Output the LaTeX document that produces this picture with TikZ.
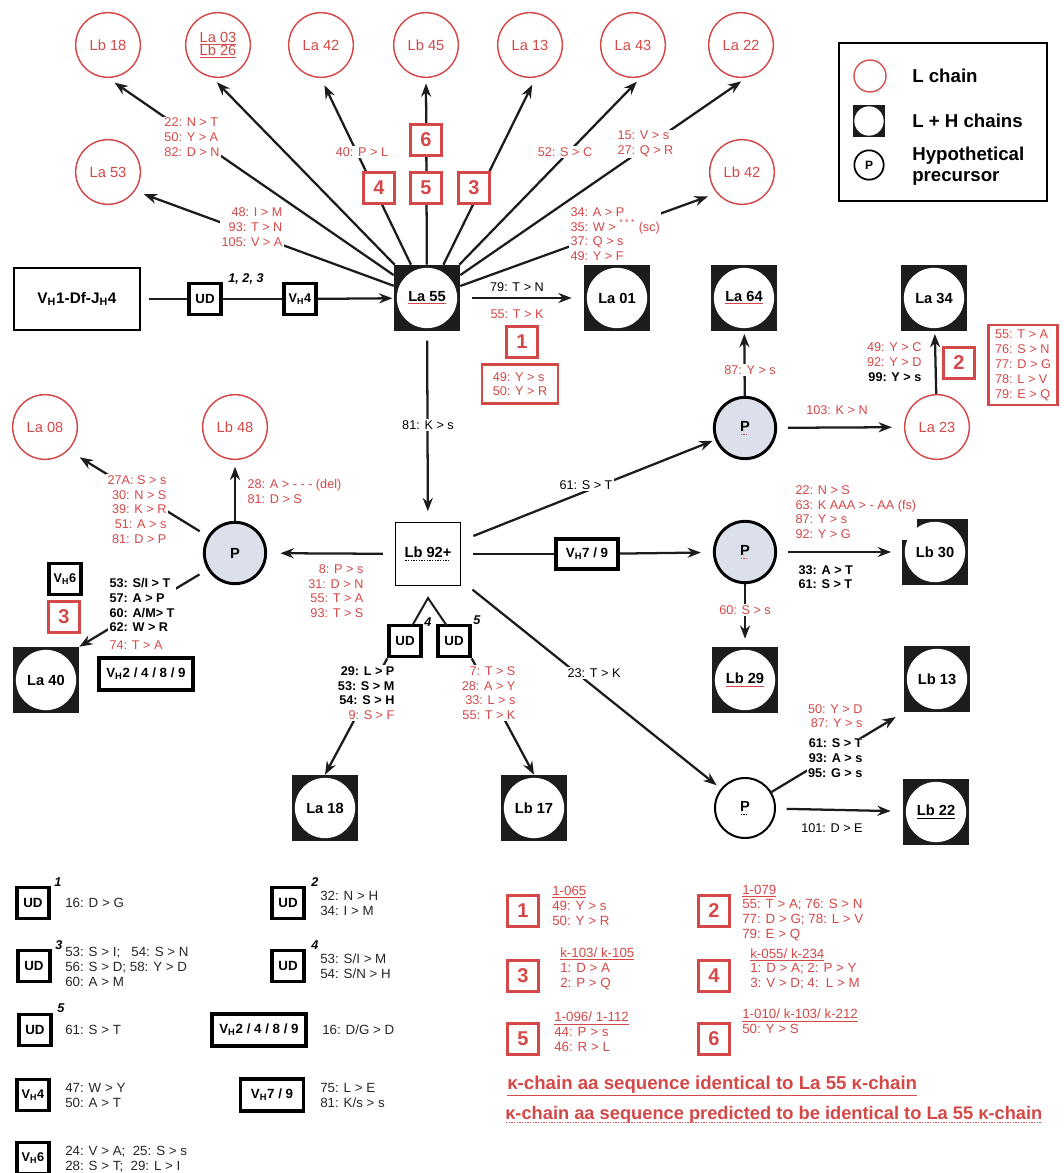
\documentclass[tikz,border=0pt]{standalone}
\usepackage{fontspec}
\setmainfont{Liberation Sans}
\usetikzlibrary{arrows.meta}
\definecolor{lred}{RGB}{212,72,72}
\definecolor{pgrey}{RGB}{220,224,235}
\definecolor{dk}{RGB}{28,28,28}
\newcommand{\dotul}[1]{\setbox0=\hbox{#1}\rlap{\hbox to \wd0{\leaders\hbox to 2pt{\hss\rule[-2.6pt]{1pt}{0.7pt}\hss}\hfill}}\box0}
\newcommand{\rul}[1]{\textcolor{lred}{\underline{\textcolor{black}{#1}}}}
\newcommand{\rdl}[1]{\textcolor{lred}{\dotul{\textcolor{black}{#1}}}}
\newcommand{\kdl}[1]{\dotul{#1}}
\newcommand{\Vh}{V\textsubscript{H}}
\begin{document}
\begin{tikzpicture}[x=0.75pt,y=-0.75pt,
  lab/.style={font=\fontsize{9.5}{11}\selectfont, inner sep=1pt, fill=white},
  rlab/.style={lab, text=lred},
  blab/.style={lab, text=black},
  bblab/.style={lab, text=black, font=\bfseries\fontsize{9.5}{11}\selectfont},
  lchain/.style={circle, draw=lred, line width=1.1pt, minimum size=48.5pt, inner sep=0pt, text=lred, fill=white, align=center, font=\fontsize{11}{12}\selectfont},
  lhnode/.style={rectangle, fill=dk, minimum size=49.5pt, inner sep=0pt, font=\bfseries\fontsize{11}{12}\selectfont, path picture={\fill[white] (path picture bounding box.center) circle (22.6pt);}},
  lhsmall/.style={rectangle, fill=dk, minimum size=24pt, inner sep=0pt, path picture={\fill[white] (path picture bounding box.center) circle (11pt);}},
  pgnode/.style={circle, draw=black, line width=2.2pt, fill=pgrey, minimum size=46pt, inner sep=0pt, font=\bfseries\fontsize{11}{12}\selectfont},
  pwnode/.style={circle, draw=black, line width=1.5pt, fill=white, minimum size=45pt, inner sep=0pt, font=\bfseries\fontsize{11}{12}\selectfont},
  tbox/.style={rectangle, draw=black, line width=2.6pt, fill=white, inner sep=1pt, font=\bfseries\fontsize{10}{11}\selectfont},
  udbox/.style={tbox, minimum width=24pt, minimum height=23.5pt},
  numbox/.style={rectangle, draw=lred, line width=2.2pt, fill=white, minimum size=23pt, inner sep=0pt, text=lred, font=\bfseries\fontsize{15}{15}\selectfont},
  arr/.style={draw=dk, line width=1.7pt, -{Stealth[length=10pt,width=7.5pt]}},
  ln/.style={draw=dk, line width=1.7pt},
  supmark/.style={font=\bfseries\itshape\fontsize{9.5}{10}\selectfont, inner sep=0pt},
  leg/.style={font=\fontsize{10}{11.2}\selectfont, text=black!85, align=left, anchor=west, inner sep=0pt},
  rleg/.style={leg, text=lred}
]
\useasboundingbox (0,0) rectangle (1063,1173);

% ---------- main nodes ----------
\node[lchain] (lb18) at (108,45) {Lb 18};
\node[lchain] (la03) at (218,45) {\underline{La 03}\\[-2pt]\underline{Lb 26}};
\node[lchain] (la42) at (321,45) {La 42};
\node[lchain] (lb45) at (426,45) {Lb 45};
\node[lchain] (la13) at (530,45) {La 13};
\node[lchain] (la43) at (633,45) {La 43};
\node[lchain] (la22) at (741,45) {La 22};
\node[lchain] (la53) at (108,172) {La 53};
\node[lchain] (lb42) at (742,172) {Lb 42};

\node[draw, line width=1.5pt, minimum width=95pt, minimum height=47pt, font=\bfseries\fontsize{11.5}{12}\selectfont] (vh1) at (77,299) {\Vh1-Df-J\textsubscript{H}4};
\node[udbox] (ud1) at (205,299) {UD};
\node[udbox, font=\bfseries\fontsize{9.5}{10}\selectfont] (vh4a) at (300,299) {\Vh4};

\node[lhnode] (la55) at (427,298) {\rul{La 55}};
\node[lhnode] (la01) at (617,298) {La 01};
\node[lhnode] (la64) at (744,298) {\rul{La 64}};
\node[lhnode] (la34) at (934,298) {La 34};
\node[lchain] (la23) at (937,427) {La 23};
\node[pgnode] (p1) at (745,428) {\rdl{P}};
\node[pgnode] (p2) at (745,552) {\rdl{P}};
\node[lhnode] (lb30) at (935,552) {Lb 30};
\node[lhnode] (lb29) at (745,680) {\rul{Lb 29}};
\node[lhnode] (lb13) at (937,679) {Lb 13};
\node[pwnode] (p3) at (745,808) {\kdl{P}};
\node[lhnode] (lb22) at (936,812) {\underline{Lb 22}};
\node[lhnode] (la18) at (325,808) {La 18};
\node[lhnode] (lb17) at (534,808) {Lb 17};
\node[lhnode] (la40) at (46,680) {La 40};
\node[pgnode] (p0) at (235,553) {P};
\node[lchain] (la08) at (45,427) {La 08};
\node[lchain] (lb48) at (235,427) {Lb 48};
\node[draw, line width=1.1pt, minimum width=48.5pt, minimum height=47pt, fill=white, font=\bfseries\fontsize{11}{12}\selectfont] (lb92) at (428,554) {\kdl{Lb 92+}};
\node[tbox, minimum width=46.5pt, minimum height=22.5pt] (vh79a) at (587,554) {\Vh7 / 9};
\node[udbox] (ud4a) at (405,641) {UD};
\node[udbox] (ud5a) at (454,641) {UD};
\node[supmark] at (428,622) {4};
\node[supmark] at (477,620) {5};
\coordinate (tl) at (412,626);
\coordinate (tapex) at (428,598);
\coordinate (tr) at (447,626);

% ---------- connectors ----------
\draw[arr, shorten >=6pt] (la55) -- (lb18.south);
\draw[arr, shorten >=5pt] (la55) -- (la03.-100);
\draw[arr, shorten >=6pt] (la55) -- (la42.south);
\draw[arr, shorten >=4pt] (la55) -- (lb45.south);
\draw[arr, shorten >=6pt] (la55) -- (la13.-80);
\draw[arr, shorten >=5pt] (la55) -- (la43.-75);
\draw[arr, shorten >=5pt] (la55) -- (la22.-80);
\draw[arr, shorten >=7pt] (la55) -- (la53.-35);
\draw[arr, shorten >=7pt] (la55) -- (lb42.220);

\draw[ln, shorten <=6pt] (vh1) -- (ud1);
\draw[ln] (ud1) -- (vh4a);
\draw[arr, shorten >=1pt] (vh4a) -- (la55);

\draw[arr, shorten <=9pt, shorten >=9pt] (la55) -- (la01);
\draw[arr, shorten <=7pt, shorten >=8pt] (la55) -- (lb92);

\draw[arr, shorten >=2pt] (p1) -- (la64);
\draw[arr, shorten <=8pt, shorten >=9pt] (p1) -- (la23);
\draw[arr, shorten >=2pt] (la23) -- (la34);
\draw[arr, shorten <=8pt, shorten >=8pt] (p2) -- (lb30);
\draw[arr, shorten >=6pt] (p2) -- (lb29);
\draw[arr, shorten <=8pt, shorten >=9pt] (p3) -- (lb22);
\draw[arr, shorten >=7pt] (p3) -- (lb13.south west);

\draw[arr, shorten <=10pt, shorten >=2pt] (lb92) -- (p1);
\draw[arr, shorten <=11pt, shorten >=4pt] (lb92) -- (p3);
\draw[ln, shorten <=9pt] (lb92) -- (vh79a);
\draw[arr, shorten >=9pt] (vh79a) -- (p2);
\draw[arr, shorten <=9pt, shorten >=10pt] (lb92) -- (p0);

\draw[arr, shorten >=5pt] (p0) -- (lb48);
\draw[arr, shorten <=7pt, shorten >=10pt] (p0) -- (la08.-45);
\draw[arr, shorten <=7pt] (p0) -- (la40.north east);

\draw[ln, line width=1.5pt] (tl) -- (tapex) -- (tr);
\draw[arr] (ud4a.south west) -- (la18.north);
\draw[arr] (ud5a.south east) -- (lb17.north);

% ---------- boxes on lines ----------
\node[numbox] (b6) at (426,140) {6};
\node[numbox] (b5) at (426,188) {5};
\node[numbox] (b4) at (379,188) {4};
\node[numbox] (b3) at (474,188) {3};
\node[numbox] (b1) at (522,342) {1};
\node[draw=lred, line width=2.2pt, minimum width=57pt, minimum height=29pt, text=lred, align=left, font=\fontsize{9.5}{11}\selectfont, fill=white] (b1list) at (520,384) {49: Y > s\\50: Y > R};
\node[numbox] (b2) at (959,363) {2};
\node[draw=lred, line width=2.2pt, minimum width=52pt, minimum height=60pt, text=lred, align=left, font=\fontsize{9.5}{11.3}\selectfont, fill=white, inner sep=2pt] (b2list) at (1023,365) {55: T > A\\76: S > N\\77: D > G\\78: L > V\\79: E > Q};
\node[udbox, font=\bfseries\fontsize{9.5}{10}\selectfont] (vh6a) at (65,579) {\Vh6};
\node[numbox] (b3b) at (64,617) {3};
\node[tbox, minimum width=70.5pt, minimum height=24pt] (vh2489a) at (146,674) {\Vh2 / 4 / 8 / 9};

% ---------- labels ----------
\node[rlab, align=left] at (192,137) {22: N > T\\50: Y > A\\82: D > N};
\node[rlab, align=right] at (252,227) {48: I > M\\93: T > N\\105: V > A};
\node[rlab] at (362,152) {40: P > L};
\node[rlab] at (565,152) {52: S > C};
\node[rlab, align=left, anchor=west] at (616,144) {15: V > s\\27: Q > R};
\node[rlab, align=left, anchor=west] at (569,234) {34: A > P\\35: W > \textsuperscript{* * *} (sc)\\37: Q > s\\49: Y > F};
\node[supmark, fill=white, inner sep=1pt] at (246,279) {1, 2, 3};

\node[blab] at (517,287) {79: T > N};
\node[rlab] at (517,314) {55: T > K};
\node[blab] at (428,425) {81: K > s};
\node[blab] at (586,485) {61: S > T};
\node[blab] at (594,673) {23: T > K};

\node[rlab] at (750,370) {87: Y > s};
\node[rlab, align=right, anchor=east] at (923,362) {49: Y > C\\92: Y > D\\\textcolor{black}{\bfseries 99: Y > s}};
\node[rlab] at (837,410) {103: K > N};
\node[rlab, align=left, anchor=west] at (794,512) {22: N > S\\63: K AAA > - AA (fs)\\87: Y > s\\92: Y > G};
\node[bblab, align=left, anchor=west] at (797,577) {33: A > T\\61: S > T};
\node[rlab] at (745,610) {60: S > s};
\node[rlab, align=right, anchor=east] at (864,716) {50: Y > D\\87: Y > s};
\node[bblab, align=right, anchor=east] at (864,758) {61: S > T\\93: A > s\\95: G > s};
\node[blab] at (832,828) {101: D > E};

\node[rlab, align=right, anchor=north east] at (168,474) {27A: S > s\\30: N > S\\39: K > R\\51: A > s\\81: D > P};
\node[rlab, align=left, anchor=north west] at (246,478) {28: A > - - - (del)\\81: D > S};
\node[rlab, align=right, anchor=north east] at (365,563) {8: P > s\\31: D > N\\55: T > A\\93: T > S};
\node[bblab, align=left, anchor=north west] at (108,577) {53: S/I > T\\57: A > P\\60: A/M> T\\62: W > R\\[2pt]\textcolor{lred}{\mdseries 74: T > A}};
\node[bblab, align=right, anchor=north east] at (396,665) {29: L > P\\53: S > M\\54: S > H\\\textcolor{lred}{\mdseries 9: S > F}};
\node[rlab, align=right, anchor=north east] at (517,665) {7: T > S\\28: A > Y\\33: L > s\\55: T > K};

% ---------- legend (top right) ----------
\node[draw, line width=1.4pt, minimum width=156pt, minimum height=119pt] (legbox) at (943,122) {};
\node[lchain, minimum size=24pt, line width=1pt] (legl) at (870,76) {};
\node[lhsmall] (leglh) at (869,121) {};
\node[circle, draw, line width=1.3pt, minimum size=22pt, inner sep=0pt, font=\bfseries\fontsize{9}{10}\selectfont] (legp) at (869,165) {P};
\node[anchor=west, inner sep=0pt, font=\bfseries\fontsize{14}{16}\selectfont] at (912,76) {L chain};
\node[anchor=west, inner sep=0pt, font=\bfseries\fontsize{14}{16}\selectfont] at (912,121) {L + H chains};
\node[anchor=west, inner sep=0pt, align=left, font=\bfseries\fontsize{14}{16}\selectfont] at (912,166) {Hypothetical\\precursor};

% ---------- legend (bottom left) ----------
\node[udbox] (lud1) at (33,903) {UD};
\node[supmark] at (58,882) {1};
\node[leg] at (65,903) {16: D > G};
\node[udbox] (lud2) at (288,903) {UD};
\node[supmark] at (315,882) {2};
\node[leg] at (320,903) {32: N > H\\34: I > M};
\node[udbox] (lud3) at (34,966) {UD};
\node[supmark] at (59,945) {3};
\node[leg] at (65,967) {53: S > I;\ \ \ 54: S > N\\56: S > D; 58: Y > D\\60: A > M};
\node[udbox] (lud4) at (288,966) {UD};
\node[supmark] at (315,945) {4};
\node[leg] at (320,966) {53: S/I > M\\54: S/N > H};
\node[udbox] (lud5) at (35,1030) {UD};
\node[supmark] at (61,1008) {5};
\node[leg] at (65,1030) {61: S > T};
\node[tbox, minimum width=70.5pt, minimum height=24pt] (lvh2489) at (259,1030) {\Vh2 / 4 / 8 / 9};
\node[leg] at (322,1030) {16: D/G > D};
\node[udbox, font=\bfseries\fontsize{9.5}{10}\selectfont] (lvh4) at (33,1095) {\Vh4};
\node[leg] at (65,1095) {47: W > Y\\50: A > T};
\node[tbox, minimum width=47pt, minimum height=24pt] (lvh79) at (272,1095) {\Vh7 / 9};
\node[leg] at (320,1095) {75: L > E\\81: K/s > s};
\node[udbox, font=\bfseries\fontsize{9.5}{10}\selectfont] (lvh6) at (33,1158) {\Vh6};
\node[leg] at (65,1159) {24: V > A;\ \ 25: S > s\\28: S > T;\ \ 29: L > I};

% ---------- legend (bottom right, red) ----------
\node[numbox] (k1) at (523,911) {1};
\node[rleg] at (552,906) {\underline{1-065}\\49: Y > s\\50: Y > R};
\node[numbox] (k2) at (714,911) {2};
\node[rleg] at (742,913) {\underline{1-079}\\55: T > A; 76: S > N\\77: D > G; 78: L > V\\79: E > Q};
\node[numbox] (k3) at (523,976) {3};
\node[rleg] at (560,969) {\underline{k-103/ k-105}\\1: D > A\\2: P > Q};
\node[numbox] (k4) at (714,976) {4};
\node[rleg] at (750,969) {\underline{k-055/ k-234}\\1: D > A; 2: P > Y\\3: V > D; 4:\ \ L > M};
\node[numbox] (k5) at (523,1039) {5};
\node[rleg] at (554,1032) {\underline{1-096/ 1-112}\\44: P > s\\46: R > L};
\node[numbox] (k6) at (714,1039) {6};
\node[rleg, anchor=north west] at (742,1009) {\underline{1-010/ k-103/ k-212}\\50: Y > S};

\node[anchor=west, inner sep=0pt, text=lred, font=\bfseries\fontsize{14}{16}\selectfont] at (507,1086) {\underline{κ-chain aa sequence identical to La 55 κ-chain}};
\node[anchor=west, inner sep=0pt, text=lred, font=\bfseries\fontsize{13.7}{16}\selectfont] at (505,1115) {\dotul{κ-chain aa sequence predicted to be identical to La 55 κ-chain}};
\end{tikzpicture}
\end{document}
